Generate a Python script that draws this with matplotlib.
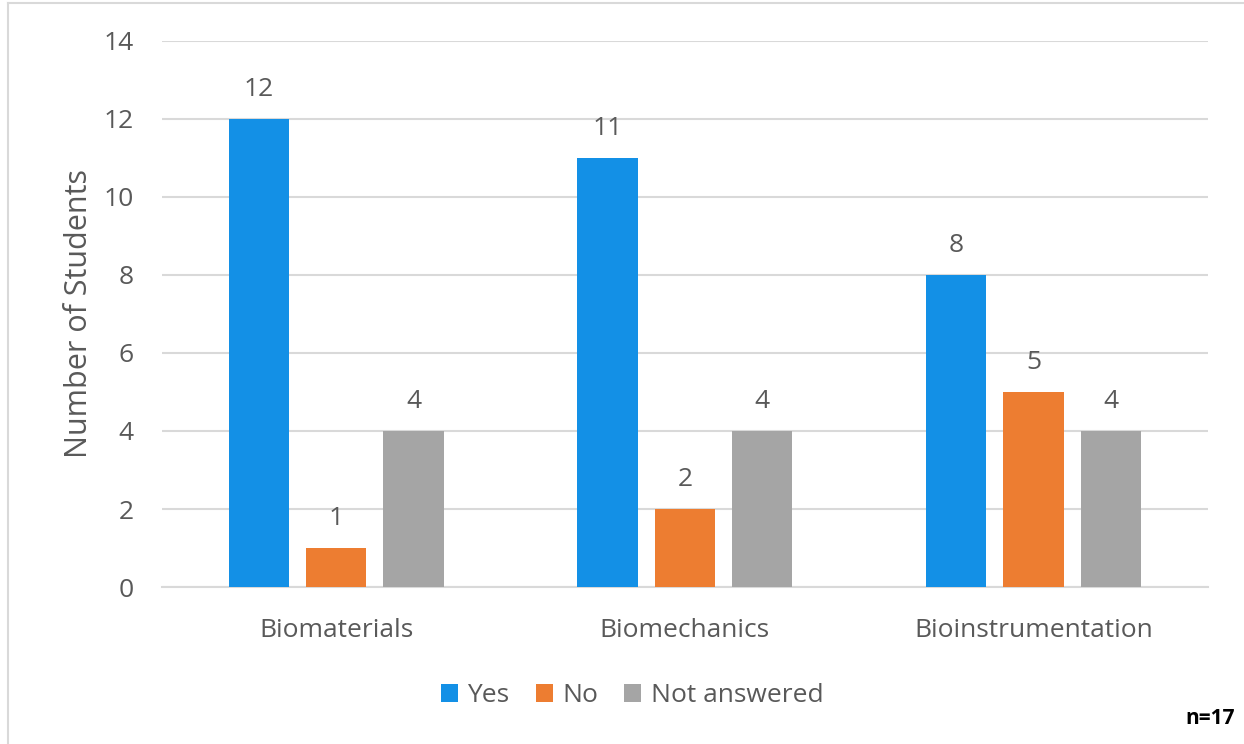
import matplotlib
matplotlib.use("Agg")
import matplotlib.pyplot as plt
import numpy as np
from matplotlib.lines import Line2D

categories = ["Biomaterials", "Biomechanics", "Bioinstrumentation"]
series_names = ["Yes", "No", "Not answered"]
yes_vals = [12, 11, 8]
no_vals = [1, 2, 5]
na_vals = [4, 4, 4]
yticks = [0, 2, 4, 6, 8, 10, 12, 14]
colors = ["#1390E6", "#ED7D31", "#A5A5A5"]
text_color = "#595959"

plt.rcParams['font.family'] = ['Open Sans', 'DejaVu Sans']

fig = plt.figure(figsize=(12.44, 7.44), dpi=100)
ax = fig.add_axes([0.130, 0.211, 0.841, 0.734])

x = np.arange(len(categories))
width = 0.173
offset = 0.222
handles = []
for i, (vals, name, c) in enumerate(zip([yes_vals, no_vals, na_vals], series_names, colors)):
    bars = ax.bar(x + (i - 1) * offset, vals, width, color=c, label=name, zorder=3)
    ax.bar_label(bars, padding=12, fontsize=19, color=text_color)
    handles.append(bars)

ax.set_xlim(-0.5, 2.5)
ax.set_ylim(0, 14)
ax.set_yticks(yticks)
ax.set_xticks(x)
ax.set_xticklabels(categories)
ax.tick_params(axis='both', length=0, labelsize=19, colors=text_color)
ax.tick_params(axis='y', pad=20)
ax.tick_params(axis='x', pad=22)
ax.grid(axis='y', color='#D9D9D9', linewidth=1.5, zorder=0)
for s in ['top', 'right', 'left']:
    ax.spines[s].set_visible(False)
ax.spines['bottom'].set_color('#D9D9D9')
ax.spines['bottom'].set_linewidth(1.5)
ax.set_ylabel("Number of Students", fontsize=22, color=text_color, labelpad=7)

leg = fig.legend(handles=handles, labels=series_names, loc='center', bbox_to_anchor=(0.508, 0.065),
                 ncol=3, frameon=False, fontsize=19, handlelength=0.65, handleheight=0.65,
                 handletextpad=0.35, columnspacing=1.0)
for t in leg.get_texts():
    t.set_color(text_color)

fig.text(0.993, 0.02, "n=17", fontsize=15, fontweight='bold', ha='right', va='bottom', color='black')

# chart border (top and left visible)
fig.add_artist(Line2D([0.0065, 1.0], [0.996, 0.996], color='#D9D9D9', linewidth=1.5, transform=fig.transFigure))
fig.add_artist(Line2D([0.0065, 0.0065], [0.0, 0.996], color='#D9D9D9', linewidth=1.5, transform=fig.transFigure))

fig.savefig("out.png", dpi=100)
